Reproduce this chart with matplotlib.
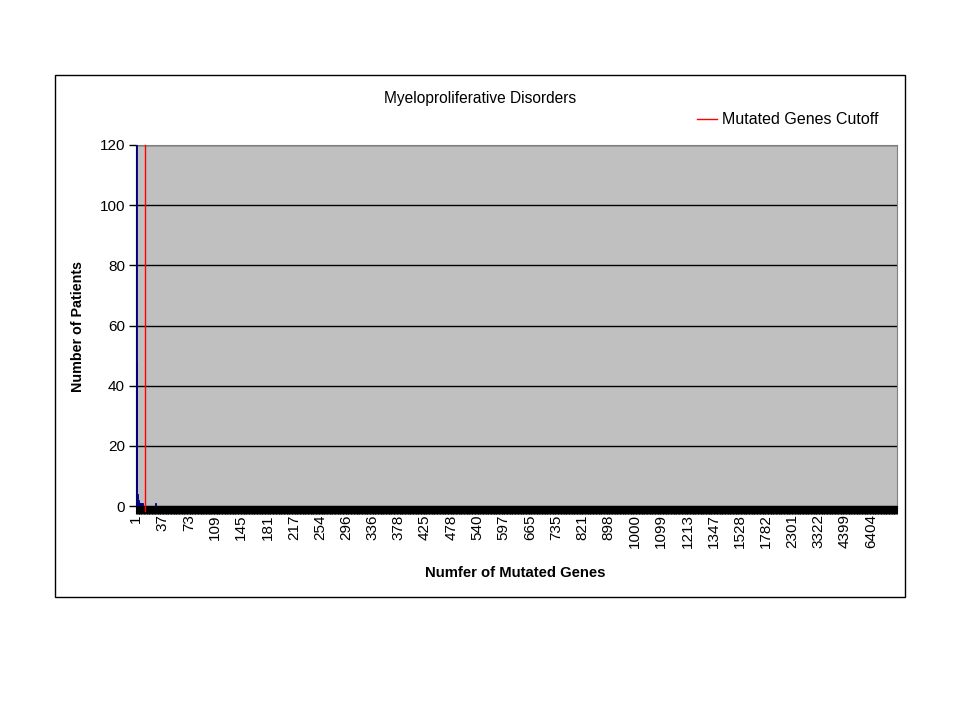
import matplotlib.pyplot as plt
from matplotlib.patches import Rectangle

plt.rcParams['font.family'] = ['Liberation Sans', 'DejaVu Sans']

# nombre de categories sur l'axe x (valeurs distinctes)
n_categories = 1044
tick_every = 36
tick_labels = ["1", "37", "73", "109", "145", "181", "217", "254", "296", "336",
               "378", "425", "478", "540", "597", "665", "735", "821", "898", "1000",
               "1099", "1213", "1347", "1528", "1782", "2301", "3322", "4399", "6404"]

# barres visibles (position de categorie, nombre de patients)
bar_pos = [0, 1, 2, 3, 4, 5, 6, 7, 8, 26]
bar_counts = [160, 48, 4, 2, 1, 1, 1, 1, 1, 1]

cutoff_pos = 12

fig = plt.figure(figsize=(9.6, 7.2), dpi=100)
fig.patch.set_facecolor("white")

# cadre du graphique
fig.patches.append(Rectangle((55 / 960, 1 - 597 / 720), 850 / 960, 522 / 720,
                             transform=fig.transFigure, fill=False,
                             edgecolor="black", linewidth=1))

ax = fig.add_axes([136 / 960, 1 - 506 / 720, 761 / 960, 361 / 720])
ax.set_facecolor("#C0C0C0")

ax.bar(bar_pos, bar_counts, width=1.0, color="#000080", edgecolor="#000080",
       linewidth=0.6, zorder=3)
ax.axvline(cutoff_pos, color="#FF0000", linewidth=1, zorder=4,
           ymin=-0.015, clip_on=False, label="Mutated Genes Cutoff")

ax.set_xlim(-0.5, n_categories - 0.5)
ax.set_ylim(0, 120)
ax.set_yticks(range(0, 121, 20))
ax.yaxis.grid(True, color="black", linewidth=1)
ax.set_axisbelow(True)

ax.set_xticks([i * tick_every for i in range(len(tick_labels))])
ax.set_xticklabels(tick_labels, rotation=90)
ax.set_xticks(range(n_categories), minor=True)
ax.tick_params(axis="x", which="both", length=6, width=0.8, color="black",
               labelsize=11, pad=0)
ax.tick_params(axis="y", length=5, width=1, labelsize=11, pad=3)

for side in ["top", "right"]:
    ax.spines[side].set_color("#808080")
ax.spines["left"].set_color("black")
ax.spines["bottom"].set_color("black")

fig.text(480 / 960, 1 - 99 / 720, "Myeloproliferative Disorders",
         ha="center", va="center", fontsize=11.2)
fig.text(78 / 960, 1 - 327 / 720, "Number of Patients", rotation=90,
         ha="center", va="center", fontsize=10.3, fontweight="bold")
fig.text(515 / 960, 1 - 573 / 720, "Numfer of Mutated Genes",
         ha="center", va="center", fontsize=10.7, fontweight="bold")

ax.legend(loc="center left", bbox_to_anchor=(697 / 960, 1 - 120 / 720),
          bbox_transform=fig.transFigure, frameon=False, fontsize=11.5,
          borderpad=0, borderaxespad=0, handlelength=1.25, handletextpad=0.3)

plt.savefig("out.png", dpi=100)
